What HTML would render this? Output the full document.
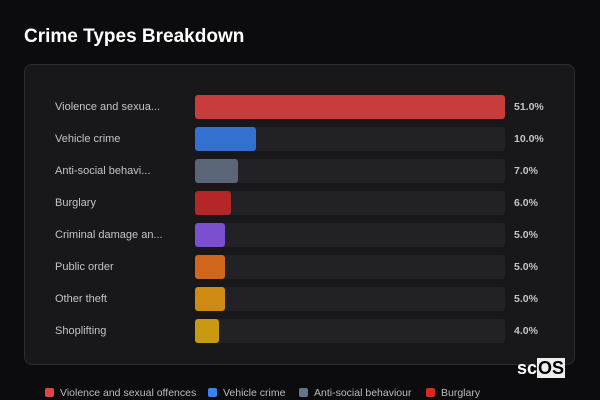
<!DOCTYPE html>
<html><head><meta charset="utf-8"><style>
body{margin:0;width:600px;height:400px;background:#0c0c0f;font-family:"Liberation Sans",sans-serif;overflow:hidden;position:relative}
.title{position:absolute;left:24px;top:26px;font-size:19px;font-weight:bold;color:#fff}
.panel{position:absolute;left:24px;top:64px;width:551px;height:301px;background:#18181b;border:1px solid #2c2c31;border-radius:8px;box-sizing:border-box}
.lbl{position:absolute;left:55px;font-size:11px;color:#c4c4c8;line-height:12px}
.track{position:absolute;left:195px;width:310px;height:24px;background:#222226;border-radius:3px}
.bar{position:absolute;left:195px;height:24px;border-radius:3px}
.val{position:absolute;left:514px;font-size:10.5px;font-weight:bold;color:#c4c4c8;line-height:12px}
.leg{position:absolute;top:387px;font-size:10.5px;color:#bbb;line-height:12px;white-space:nowrap}
.leg i{display:inline-block;width:9px;height:9px;border-radius:2px;margin-right:6px;vertical-align:-1px}
.logo{position:absolute;left:517px;top:358px;font-size:18px;font-weight:bold;color:#fff;line-height:20px}
.logo span{background:#eee;color:#000;padding:0 1px}
</style></head><body>
<div class="title">Crime Types Breakdown</div>
<div class="panel"></div>
<div id="rows"></div>
<div class="leg" style="left:45px"><i style="background:#e04444"></i>Violence and sexual offences</div>
<div class="leg" style="left:208px"><i style="background:#3b82f6"></i>Vehicle crime</div>
<div class="leg" style="left:299px"><i style="background:#64748b"></i>Anti-social behaviour</div>
<div class="leg" style="left:426px"><i style="background:#dc2626"></i>Burglary</div>
<div class="logo">sc<span>OS</span></div>
<script>
const categories=["Violence and sexua...","Vehicle crime","Anti-social behavi...","Burglary","Criminal damage an...","Public order","Other theft","Shoplifting"];
const values=[51,10,7,6,5,5,5,4];
const colors=["#c93c3c","#3470d0","#5a6677","#b52626","#7a4fd0","#d0651c","#ce8a12","#c89a12"];
const maxV=Math.max(...values);
function x(v){return v/maxV*310;}
function y(i){return 95+i*32;}
const root=document.getElementById('rows');
categories.forEach((c,i)=>{
  const l=document.createElement('div');l.className='lbl';l.style.top=(y(i)+6)+'px';l.textContent=c;
  
  
  root.appendChild(l);
  const t=document.createElement('div');t.className='track';t.style.top=y(i)+'px';
  
  
  root.appendChild(t);
  const b=document.createElement('div');b.className='bar';b.style.top=y(i)+'px';b.style.width=x(values[i])+'px';b.style.background=colors[i];
  
  
  root.appendChild(b);
  const v=document.createElement('div');v.className='val';v.style.top=(y(i)+6)+'px';v.textContent=values[i].toFixed(1)+'%';
  
  
  root.appendChild(v);
});
</script>
</body></html>
